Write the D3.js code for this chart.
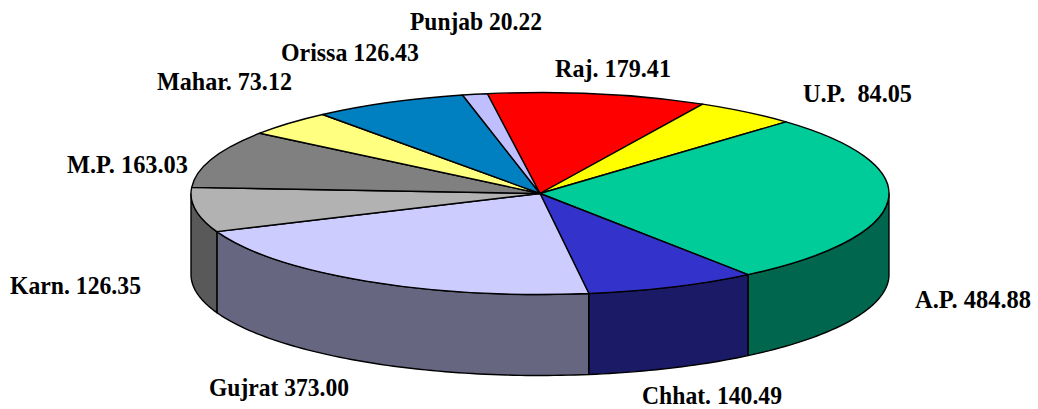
<!DOCTYPE html>
<html><head><meta charset="utf-8">
<script src="https://cdnjs.cloudflare.com/ajax/libs/d3/7.8.5/d3.min.js"></script>
<style>html,body{margin:0;background:#fff}svg{display:block}
text{font-family:"Liberation Serif",serif;font-weight:bold;font-size:25px;fill:#000}</style>
</head><body><svg id="c" width="1038" height="409"></svg>
<script>
const states = ["Raj.","U.P.","A.P.","Chhat.","Gujrat","Karn.","M.P.","Mahar.","Orissa","Punjab"];
const values = [179.41,84.05,484.88,140.49,373.00,126.35,163.03,73.12,126.43,20.22];
const tickText = ["179.41"," 84.05","484.88","140.49","373.00","126.35","163.03","73.12","126.43","20.22"];
const topColors = ["#FF0000","#FFFF00","#00CC99","#3333CC","#CCCCFF","#B2B2B2","#808080","#FFFF80","#0080C0","#BFBFFF"];
const sideColors = ["#800000","#808000","#00664D","#1A1A66","#666680","#595959","#404040","#808040","#004060","#606080"];
const labelAnchors = [[555,77],[803,102],[915,308],[642,404],[209,396],[10,294],[67,173],[157,90],[281,61],[410,30]];
const labelWidths = [116,109,116,140,140,131,121,135,138,132];

const cx=540, cy=193.5, rx=349, ry=101, depth=81;
const startDeg=-8.7;
const svg=d3.select("#c");
const toRad=d=>d*Math.PI/180;
const pie=d3.pie().sort(null).startAngle(toRad(startDeg)).endAngle(toRad(startDeg+360));
const arcs=pie(values);
const sx=d3.scaleLinear().domain([-1,1]).range([cx-rx,cx+rx]);
const sy=d3.scaleLinear().domain([-1,1]).range([cy-ry,cy+ry]);
const px=a=>sx(Math.sin(a)), py=a=>sy(-Math.cos(a));

// visible front walls (angles from 90° to 270°)
const front=arcs.map((d,i)=>{
  const a0=Math.max(d.startAngle,Math.PI/2), a1=Math.min(d.endAngle,3*Math.PI/2);
  return a1>a0?{a0,a1,i}:null;
}).filter(Boolean);
const wallPath=({a0,a1})=>{
  const n=Math.ceil((a1-a0)/0.02);
  const t=d3.range(n+1).map(k=>a0+(a1-a0)*k/n);
  const top=t.map(a=>[px(a),py(a)]);
  const bot=t.slice().reverse().map(a=>[px(a),py(a)+depth]);
  return d3.line()(top.concat(bot))+"Z";
};
svg.append("g").selectAll("path").data(front).join("path")
  .attr("d",wallPath).attr("fill",d=>sideColors[d.i])
  .attr("stroke","#000").attr("stroke-width",1.4).attr("stroke-linejoin","round");

// top face
const arc=d3.arc().innerRadius(0).outerRadius(1);
svg.append("g").attr("transform",`translate(${cx},${cy}) scale(${rx},${ry})`)
  .selectAll("path").data(arcs).join("path")
  .attr("d",arc).attr("fill",(d,i)=>topColors[i])
  .attr("stroke","#000").attr("stroke-width",1.4).attr("stroke-linejoin","round")
  .attr("vector-effect","non-scaling-stroke");

svg.append("g").selectAll("text").data(states).join("text")
  .attr("x",(d,i)=>labelAnchors[i][0]).attr("y",(d,i)=>labelAnchors[i][1])
  .attr("textLength",(d,i)=>labelWidths[i]).attr("lengthAdjust","spacingAndGlyphs")
  .style("white-space","pre")
  .text((d,i)=>d+" "+tickText[i]);
</script></body></html>
